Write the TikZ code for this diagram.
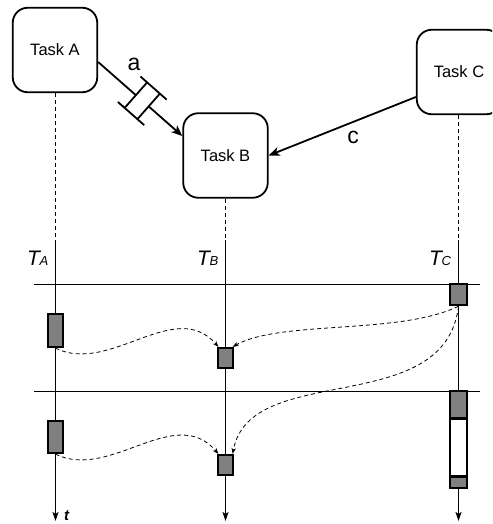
\documentclass[tikz,border=0pt]{standalone}
\usepackage{fontspec}
\setmainfont{Liberation Sans}
\usetikzlibrary{arrows.meta,calc}
\definecolor{boxgray}{HTML}{808080}
\begin{document}
\begin{tikzpicture}[x=1pt,y=-1pt,
  task/.style={draw, line width=1.8pt, rounded corners=15pt, minimum width=84.5pt, minimum height=84.5pt, inner sep=0pt, font=\fontsize{16.5}{18}\selectfont},
  gbox/.style={draw, line width=1.8pt, fill=boxgray, inner sep=0pt},
  wbox/.style={draw, line width=1.8pt, fill=white, inner sep=0pt},
  conn/.style={line width=1.8pt, -{Stealth[length=11pt,width=9pt,inset=3pt]}},
  tline/.style={line width=1.8pt, -{Stealth[length=9pt,width=6pt,inset=2pt]}},
  vdash/.style={line width=0.8pt, dash pattern=on 4pt off 3pt},
  flow/.style={line width=0.8pt, dash pattern=on 4pt off 3pt, -{Stealth[length=6pt,width=4.5pt]}},
  hline/.style={line width=0.9pt},
  lbl/.style={font=\fontsize{23}{25}\selectfont, inner sep=0pt},
  tlbl/.style={anchor=base west, inner sep=0pt}
]
\clip (0,0) rectangle (492,524);
\useasboundingbox (0,0) rectangle (492,524);

% tasks
\node[task] (A) at (55,50) {Task A};
\node[task] (B) at (225.5,155.5) {Task B};
\node[task] (C) at (459,72) {Task C};

% arrow a with buffer symbol
\coordinate (as) at ($(A.east)+(0,12)$);
\coordinate (ae) at ($(B.west)+(0,-19.5)$);
\draw[conn] (as) -- (ae);
\coordinate (M) at ($(as)!0.524!(ae)$);
\begin{scope}[shift={(M)}, rotate=-41.4]
  \fill[white] (-8.5,-17) rectangle (8.5,17);
  \draw[line width=1.8pt] (-8.5,-17) -- (-8.5,17) (8.5,-17) -- (8.5,17)
     (-17.5,-17) -- (17.5,-17) (-17.5,17) -- (17.5,17);
\end{scope}
\node[lbl] (la) at (134,64) {a};

% arrow c
\draw[conn] ($(C.west)+(0,25)$) -- (B.east);
\node[lbl] (lc) at (353,137) {c};

% timelines
\coordinate (A0) at (55.5,240); \coordinate (A1) at (55.5,521);
\coordinate (B0) at (225.5,240); \coordinate (B1) at (225.5,521);
\coordinate (C0) at (458.5,240); \coordinate (C1) at (458.5,521);
\draw[vdash] (A.south -| A0) -- (A0);
\draw[vdash] (B.south -| B0) -- (B0);
\draw[vdash] (C.south -| C0) -- (C0);
\draw[tline] (A0) -- (A1);
\draw[tline] (B0) -- (B1);
\draw[tline] (C0) -- (C1);

% horizontal lines
\coordinate (h1l) at (34,284); \coordinate (h1r) at (480,284);
\coordinate (h2l) at (34,391); \coordinate (h2r) at (480,391);
\draw[hline] (h1l) -- (h1r);
\draw[hline] (h2l) -- (h2r);

% labels
\node[tlbl] (TA) at (27,265) {\fontsize{21}{23}\selectfont\itshape T\kern-0.5pt{\fontsize{13}{15}\selectfont A}};
\node[tlbl] (TB) at (197,265) {\fontsize{21}{23}\selectfont\itshape T\kern-0.5pt{\fontsize{13}{15}\selectfont B}};
\node[tlbl] (TC) at (429,265) {\fontsize{21}{23}\selectfont\itshape T\kern-0.5pt{\fontsize{13}{15}\selectfont C}};
\node[tlbl] (tt) at (64,520) {\fontsize{15}{17}\selectfont\bfseries\itshape t};

% activity boxes
\node[gbox, minimum width=15.5pt, minimum height=33.5pt] (a1) at (55.5,330.5) {};
\node[gbox, minimum width=15.5pt, minimum height=20.5pt] (b1) at (225.5,358) {};
\node[gbox, minimum width=17.5pt, minimum height=21.5pt] (c1) at (458.5,294.5) {};
\node[gbox, minimum width=15.5pt, minimum height=32.5pt] (a2) at (55.5,437) {};
\node[gbox, minimum width=15.5pt, minimum height=20.5pt] (b2) at (225.5,465) {};
\node[gbox, minimum width=16.5pt, minimum height=27.5pt] (c2) at (458.5,404.5) {};
\node[wbox, minimum width=16.5pt, minimum height=57pt] (c3) at (458.5,447.5) {};
\node[gbox, minimum width=16.5pt, minimum height=11.5pt] (c4) at (458.5,482.5) {};

% message flows
\draw[flow] (a1.south) .. controls (110,375) and (175,297) .. ($(b1.north west)+(1.5,0)$);
\draw[flow] (c1.south) .. controls (400,335) and (280,320) .. ($(b1.north east)+(-1.5,0)$);
\draw[flow] (c1.south) .. controls (445,420) and (250,360) .. ($(b2.north east)+(-1.5,0)$);
\draw[flow] (a2.south) .. controls (110,481) and (175,403) .. ($(b2.north west)+(1.5,0)$);
\end{tikzpicture}
\end{document}
